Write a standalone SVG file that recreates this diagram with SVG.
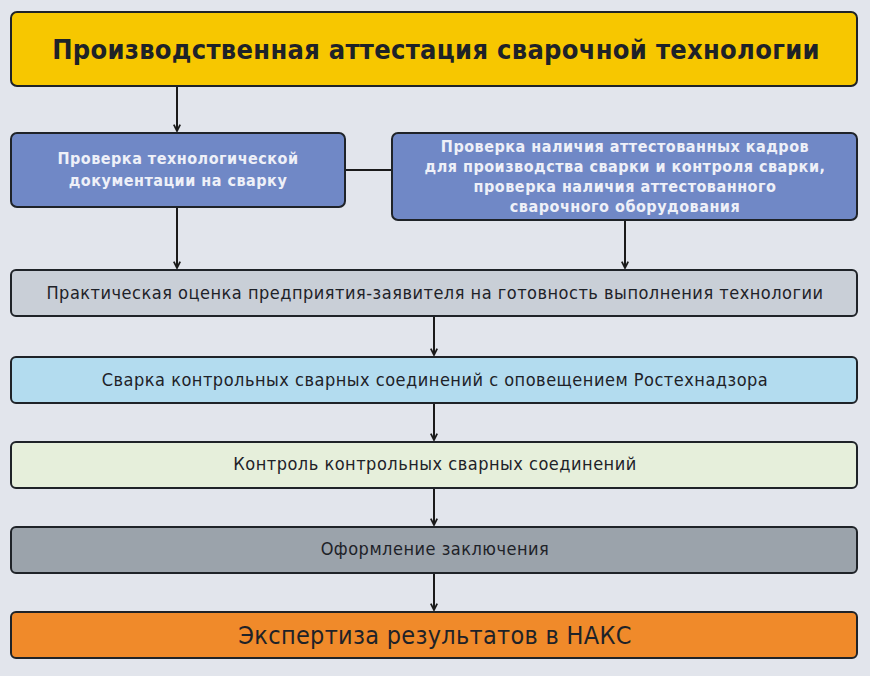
<svg xmlns="http://www.w3.org/2000/svg" width="870" height="676" viewBox="0 0 870 676">
<defs>
<marker id="ah" viewBox="0 0 10 10" refX="9" refY="5" markerWidth="8" markerHeight="8" orient="auto" markerUnits="userSpaceOnUse">
<path d="M1,1 L9,5 L1,9" fill="none" stroke="#1a1a1a" stroke-width="2.2"/>
</marker>
<style>
.box{stroke:#1f2328;stroke-width:2}
.t{font-family:"DejaVu Sans Condensed","DejaVu Sans",sans-serif;text-anchor:middle;fill:#1e2228;font-size:18px;letter-spacing:0.5px}
.w{font-family:"DejaVu Sans Condensed","DejaVu Sans",sans-serif;text-anchor:middle;fill:#eef0f8;font-weight:bold;font-size:16px;letter-spacing:0.5px}
.c{stroke:#1a1a1a;stroke-width:2;fill:none}
</style>
</defs>
<rect width="870" height="676" fill="#e2e5ec"/>
<g id="connectors">
<line class="c" x1="177" y1="86" x2="177" y2="131" marker-end="url(#ah)"/>
<line class="c" x1="345" y1="170" x2="392" y2="170"/>
<line class="c" x1="177" y1="207" x2="177" y2="268" marker-end="url(#ah)"/>
<line class="c" x1="625" y1="220" x2="625" y2="268" marker-end="url(#ah)"/>
<line class="c" x1="434" y1="316" x2="434" y2="355" marker-end="url(#ah)"/>
<line class="c" x1="434" y1="403" x2="434" y2="440" marker-end="url(#ah)"/>
<line class="c" x1="434" y1="488" x2="434" y2="525" marker-end="url(#ah)"/>
<line class="c" x1="434" y1="573" x2="434" y2="610" marker-end="url(#ah)"/>
</g>
<g id="title">
<rect class="box" x="11" y="12" width="846" height="74" rx="6" fill="#f7c700"/>
<text class="t" x="436" y="59" style="font-size:27px;letter-spacing:0.3px" font-weight="bold" fill="#2a2418">Производственная аттестация сварочной технологии</text>
</g>
<g id="check-doc">
<rect class="box" x="11" y="133" width="334" height="74" rx="6" fill="#7088c6"/>
<text class="w" x="178" y="164">Проверка технологической</text>
<text class="w" x="178" y="186">документации на сварку</text>
</g>
<g id="check-staff">
<rect class="box" x="392" y="133" width="465" height="87" rx="6" fill="#7088c6"/>
<text class="w" x="625" y="152">Проверка наличия аттестованных кадров</text>
<text class="w" x="625" y="172">для производства сварки и контроля сварки,</text>
<text class="w" x="625" y="192">проверка наличия аттестованного</text>
<text class="w" x="625" y="212">сварочного оборудования</text>
</g>
<g id="practical">
<rect class="box" x="11" y="270" width="846" height="46" rx="5" fill="#c9cfd7"/>
<text class="t" x="435" y="299">Практическая оценка предприятия-заявителя на готовность выполнения технологии</text>
</g>
<g id="welding">
<rect class="box" x="11" y="357" width="846" height="46" rx="5" fill="#b3dcef"/>
<text class="t" x="435" y="386">Сварка контрольных сварных соединений с оповещением Ростехнадзора</text>
</g>
<g id="control">
<rect class="box" x="11" y="442" width="846" height="46" rx="5" fill="#e6efdb"/>
<text class="t" x="435" y="470">Контроль контрольных сварных соединений</text>
</g>
<g id="conclusion">
<rect class="box" x="11" y="527" width="846" height="46" rx="5" fill="#9ba3ab"/>
<text class="t" x="435" y="555">Оформление заключения</text>
</g>
<g id="expertise">
<rect class="box" x="11" y="612" width="846" height="46" rx="5" fill="#f08a2a"/>
<text class="t" x="435" y="644" style="font-size:25px;letter-spacing:0.3px" fill="#3a1e10">Экспертиза результатов в НАКС</text>
</g>
</svg>
